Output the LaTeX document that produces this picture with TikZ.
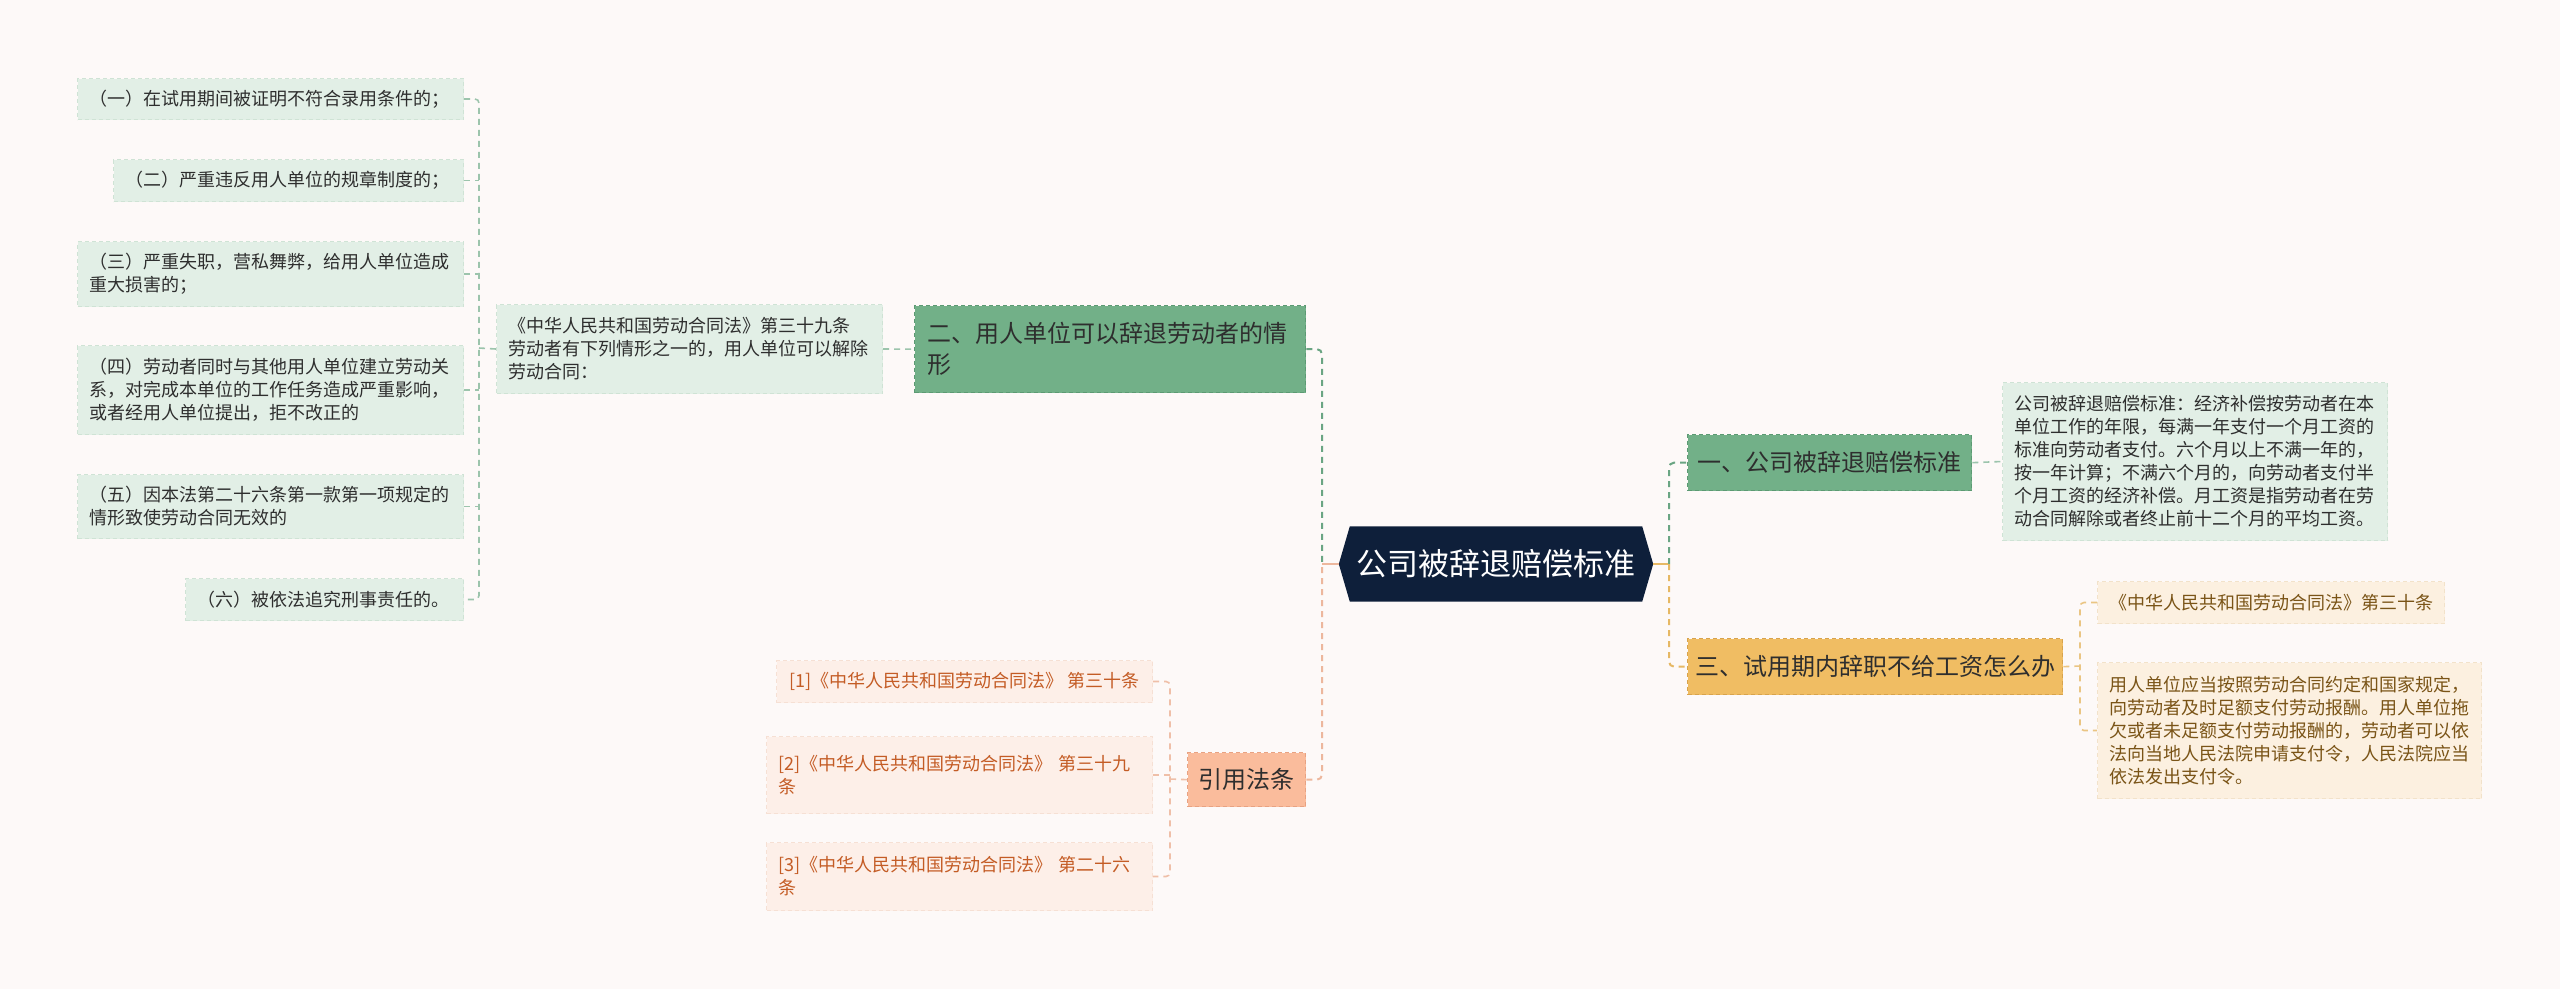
\documentclass[tikz,border=0pt]{standalone}
\usepackage{fontspec}
\setmainfont{Noto Sans CJK SC}
\usetikzlibrary{backgrounds}
\definecolor{bg}{HTML}{FDF9F8}
\definecolor{gleaf}{HTML}{E2EFE6}
\definecolor{gleafb}{HTML}{CFE3D5}
\definecolor{gnode}{HTML}{72B088}
\definecolor{gnodeb}{HTML}{5C9A73}
\definecolor{gline}{HTML}{6AA583}
\definecolor{txt}{HTML}{2E2E2E}
\definecolor{ynode}{HTML}{F0BD63}
\definecolor{ynodeb}{HTML}{D8A34C}
\definecolor{yline}{HTML}{E6B864}
\definecolor{yleaf}{HTML}{FCF0E0}
\definecolor{yleafb}{HTML}{F2E2CA}
\definecolor{ytxt}{HTML}{7A5417}
\definecolor{snode}{HTML}{FABC9C}
\definecolor{snodeb}{HTML}{E8A282}
\definecolor{sline}{HTML}{EDB79D}
\definecolor{sleaf}{HTML}{FDEFE8}
\definecolor{sleafb}{HTML}{F6E0D4}
\definecolor{stxt}{HTML}{C45C25}
\definecolor{cfill}{HTML}{0E1F3A}
\tikzset{
  base/.style={inner xsep=12pt, inner ysep=0pt, align=left, dashed, line width=1pt, dash pattern=on 4pt off 3pt},
  leafg/.style={base, fill=gleaf, draw=gleafb, text=txt, font=\fontsize{18}{23}\selectfont},
  leafy/.style={base, fill=yleaf, draw=yleafb, text=ytxt, font=\fontsize{18}{23}\selectfont},
  leafs/.style={base, fill=sleaf, draw=sleafb, text=stxt, font=\fontsize{18}{23}\selectfont},
  maing/.style={base, fill=gnode, draw=gnodeb, line width=1.3pt, text=txt, font=\fontsize{24}{31}\selectfont},
  mainy/.style={base, fill=ynode, draw=ynodeb, line width=1.3pt, text=txt, font=\fontsize{24}{31}\selectfont},
  mains/.style={base, fill=snode, draw=snodeb, line width=1.3pt, text=txt, font=\fontsize{24}{31}\selectfont},
  cg/.style={draw=gline, line width=2pt, dash pattern=on 6pt off 5pt, rounded corners=5pt},
  cy/.style={draw=yline, line width=2pt, dash pattern=on 6pt off 5pt, rounded corners=5pt},
  cs/.style={draw=sline, line width=2pt, dash pattern=on 6pt off 5pt, rounded corners=5pt},
  cgl/.style={draw=gleafb!50!gline, line width=1.6pt, dash pattern=on 6pt off 5pt, rounded corners=4pt},
  cyl/.style={draw=yline!70!yleafb, line width=1.6pt, dash pattern=on 6pt off 5pt, rounded corners=4pt},
  csl/.style={draw=sline!80!sleafb, line width=1.6pt, dash pattern=on 6pt off 5pt, rounded corners=4pt},
}
\begin{document}
\begin{tikzpicture}[x=1pt,y=-1pt]
\useasboundingbox (0,0) rectangle (2560,989);
% left leaves
\node[leafg, anchor=north east, text width=362pt, minimum height=41pt] (L1) at (464,78) {（一）在试用期间被证明不符合录用条件的；};
\node[leafg, anchor=north east, text width=326pt, minimum height=42pt] (L2) at (464,159) {（二）严重违反用人单位的规章制度的；};
\node[leafg, anchor=north east, text width=362pt, minimum height=65pt] (L3) at (464,241) {（三）严重失职，营私舞弊，给用人单位造成\\重大损害的；};
\node[leafg, anchor=north east, text width=362pt, minimum height=89pt] (L4) at (464,345) {（四）劳动者同时与其他用人单位建立劳动关\\系，对完成本单位的工作任务造成严重影响，\\或者经用人单位提出，拒不改正的};
\node[leafg, anchor=north east, text width=362pt, minimum height=64pt] (L5) at (464,474) {（五）因本法第二十六条第一款第一项规定的\\情形致使劳动合同无效的};
\node[leafg, anchor=north east, text width=254pt, minimum height=42pt] (L6) at (464,578) {（六）被依法追究刑事责任的。};
% mid
\node[leafg, anchor=north west, text width=362pt, minimum height=89pt] (M) at (496,304) {《中华人民共和国劳动合同法》第三十九条\\劳动者有下列情形之一的，用人单位可以解除\\劳动合同：};
\node[maing, anchor=north west, inner xsep=13pt, text width=365pt, minimum height=87pt] (G2) at (914,305) {二、用人单位可以辞退劳动者的情\\形};
% center
\node[text=white, font=\fontsize{31}{36}\selectfont, minimum width=314pt, minimum height=75pt, inner sep=0pt] (C) at (1496,564) {公司被辞退赔偿标准};
% right
\node[maing, anchor=north west, align=center, inner xsep=0pt, minimum width=284pt, minimum height=56pt] (G1) at (1687,434) {一、公司被辞退赔偿标准};
\node[leafg, anchor=north west, text width=361pt, minimum height=158pt] (G1a) at (2002,382) {公司被辞退赔偿标准：经济补偿按劳动者在本\\单位工作的年限，每满一年支付一个月工资的\\标准向劳动者支付。六个月以上不满一年的，\\按一年计算；不满六个月的，向劳动者支付半\\个月工资的经济补偿。月工资是指劳动者在劳\\动合同解除或者终止前十二个月的平均工资。};
\node[mainy, anchor=north west, align=center, inner xsep=0pt, minimum width=375pt, minimum height=56pt] (Y3) at (1687,638) {三、试用期内辞职不给工资怎么办};
\node[leafy, anchor=north west, align=center, inner xsep=0pt, minimum width=347pt, minimum height=42pt] (Y3a) at (2097,581) {《中华人民共和国劳动合同法》第三十条};
\node[leafy, anchor=north west, text width=360pt, minimum height=136pt] (Y3b) at (2097,662) {用人单位应当按照劳动合同约定和国家规定，\\向劳动者及时足额支付劳动报酬。用人单位拖\\欠或者未足额支付劳动报酬的，劳动者可以依\\法向当地人民法院申请支付令，人民法院应当\\依法发出支付令。};
% references
\node[mains, anchor=north west, align=center, inner xsep=0pt, minimum width=118pt, minimum height=54pt] (R) at (1187,752) {引用法条};
\node[leafs, anchor=north east, align=center, inner xsep=0pt, minimum width=376pt, minimum height=42pt] (RF1) at (1153,660) {[1]《中华人民共和国劳动合同法》 第三十条};
\node[leafs, anchor=north east, text width=362pt, minimum height=77pt] (RF2) at (1153,736) {[2]《中华人民共和国劳动合同法》 第三十九\\条};
\node[leafs, anchor=north east, text width=362pt, minimum height=68pt] (RF3) at (1153,842) {[3]《中华人民共和国劳动合同法》 第二十六\\条};
% background and hexagon
\begin{pgfonlayer}{background}
\fill[bg] (0,0) rectangle (2560,989);
\fill[cfill] ([xshift=11pt]C.north west) -- ([xshift=-11pt]C.north east) -- (C.east) -- ([xshift=-11pt]C.south east) -- ([xshift=11pt]C.south west) -- (C.west) -- cycle;
\end{pgfonlayer}
% coordinates
\coordinate (bL) at (479,348);
\coordinate (bC) at (1322,564);
\coordinate (bR) at (1669,564);
\coordinate (bY) at (2080,666);
\coordinate (bS) at (1170,779);
% connectors left
\draw[cgl] (L1.east) -| (bL) |- (L6.east);
\foreach \n in {L2,L3,L4,L5} {\draw[cgl] (\n.east) -- (\n.east -| bL);}
\draw[cgl] (bL) -- (M.west);
\draw[cgl] (M.east) -- (G2.west);
\draw[cg] (G2.east) -| (bC);
\draw[cs] (R.east) -| (bC);
\draw[draw=sline, line width=2pt] (bC) -- (C.west);
% right
\draw[draw=yline, line width=2pt] (C.east) -- (bR);
\draw[cg] (bR) |- (G1.west);
\draw[cy] (bR) |- (Y3.west);
\draw[cgl] (G1.east) -- (G1a.west);
\draw[cyl] (Y3.east) -- (bY);
\draw[cyl] (Y3a.west) -| (bY) |- (Y3b.west);
% references
\draw[csl] (R.west) -- (bS);
\draw[csl] (RF1.east) -| (bS) |- (RF3.east);
\draw[csl] (RF2.east) -- (RF2.east -| bS);
\end{tikzpicture}
\end{document}
